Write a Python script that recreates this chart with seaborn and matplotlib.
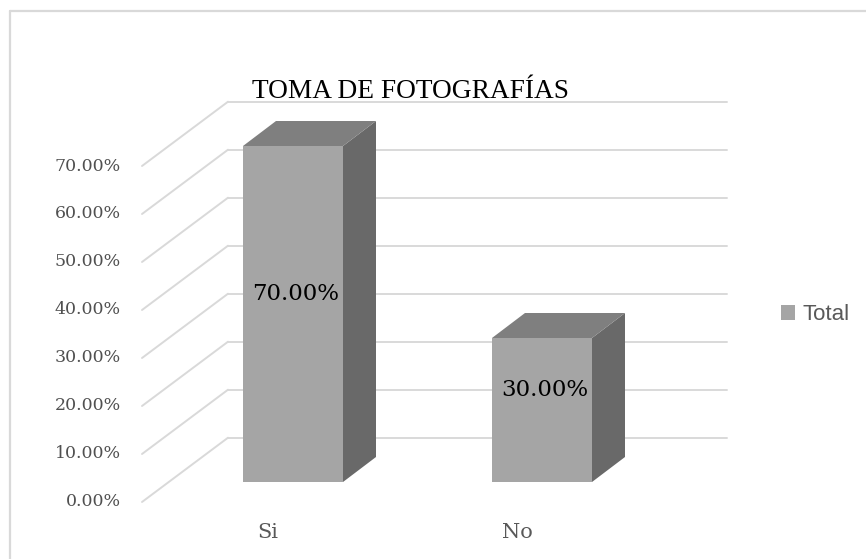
import matplotlib
matplotlib.use("Agg")
import matplotlib.pyplot as plt
from matplotlib.patches import Polygon
from matplotlib.lines import Line2D
import seaborn as sns
import pandas as pd

categories = ["Si", "No"]
values = [70.0, 30.0]
ytick_values = [0, 10, 20, 30, 40, 50, 60, 70]
title = "TOMA DE FOTOGRAFÍAS"
series_name = "Total"

FRONT = "#A5A5A5"
SIDE = "#696969"
TOP = "#7F7F7F"
GRID = "#D9D9D9"
TXT = "#595959"

W, H, DPI = 866, 559, 100
sns.set_theme(style="white")
fig = plt.figure(figsize=(W / DPI, H / DPI), dpi=DPI)
ax = fig.add_axes([0, 0, 1, 1])

# pixel scale of axes
px_per_cat = 249.0
px_per_pct = 4.8
x0_px = 293.0
y0_px_from_bottom = H - 482.0

df = pd.DataFrame({"cat": categories, "val": values})
sns.barplot(data=df, x="cat", y="val", color=FRONT, width=100 / px_per_cat,
            saturation=1, ax=ax, zorder=3, label=series_name, linewidth=0)
ax.set_xlim(-x0_px / px_per_cat, (W - x0_px) / px_per_cat)
ax.set_ylim(-y0_px_from_bottom / px_per_pct, (H - y0_px_from_bottom) / px_per_pct)
ax.axis("off")

# 3D depth
ddx = 33 / px_per_cat
ddy = 25 / px_per_pct
for p in list(ax.patches):
    xa = p.get_x()
    xb = xa + p.get_width()
    h = p.get_height()
    ax.add_patch(Polygon([(xb, 0), (xb + ddx, ddy), (xb + ddx, h + ddy), (xb, h)],
                         closed=True, facecolor=SIDE, edgecolor="none", zorder=3))
    ax.add_patch(Polygon([(xa, h), (xa + ddx, h + ddy), (xb + ddx, h + ddy), (xb, h)],
                         closed=True, facecolor=TOP, edgecolor="none", zorder=3))
    ax.text(xa + p.get_width() / 2 + 0.012, h / 2 + 4.2, f"{h:.2f}%",
            ha="center", va="center", fontsize=16.5, family="DejaVu Serif",
            color="black", zorder=5)

# back wall & diagonal gridlines
back_dy = 44.3 / px_per_pct
front_dy = -20 / px_per_pct
back_x0 = (228 - x0_px) / px_per_cat
back_x1 = (727 - x0_px) / px_per_cat
front_x = (142 - x0_px) / px_per_cat
for v in ytick_values:
    ax.plot([back_x0, back_x1], [v + back_dy, v + back_dy], color=GRID, lw=1.4, zorder=1)
    ax.plot([front_x, back_x0], [v + front_dy, v + back_dy], color=GRID, lw=1.4, zorder=1)
    ax.text((121 - x0_px) / px_per_cat, v + front_dy, f"{v:.2f}%", ha="right",
            va="center", fontsize=12.5, family="DejaVu Serif", color="#505050")

# category labels
for i, c in enumerate(categories):
    ax.text(i - 25 / px_per_cat, (H - 532 - y0_px_from_bottom) / px_per_pct, c,
            ha="center", va="center", fontsize=15, family="DejaVu Serif", color=TXT)

# title
fig.text(410 / W, 1 - 92 / H, title, ha="center", va="center", fontsize=19.7,
         family="Liberation Serif", color="black")

# legend
ax.legend(loc="center left", bbox_to_anchor=(781 / W, 1 - 315 / H), frameon=False,
          handlelength=0.65, handleheight=0.65, handletextpad=0.3, borderpad=0,
          borderaxespad=0, prop={"family": "Liberation Sans", "size": 16},
          labelcolor=TXT)

# chart border
fig.add_artist(Line2D([9.5 / W, 9.5 / W], [0, 1 - 10.5 / H], color=GRID, lw=1.6,
                      transform=fig.transFigure))
fig.add_artist(Line2D([9.5 / W, 1], [1 - 10.5 / H, 1 - 10.5 / H], color=GRID, lw=1.6,
                      transform=fig.transFigure))

fig.savefig("out.png", dpi=DPI)
